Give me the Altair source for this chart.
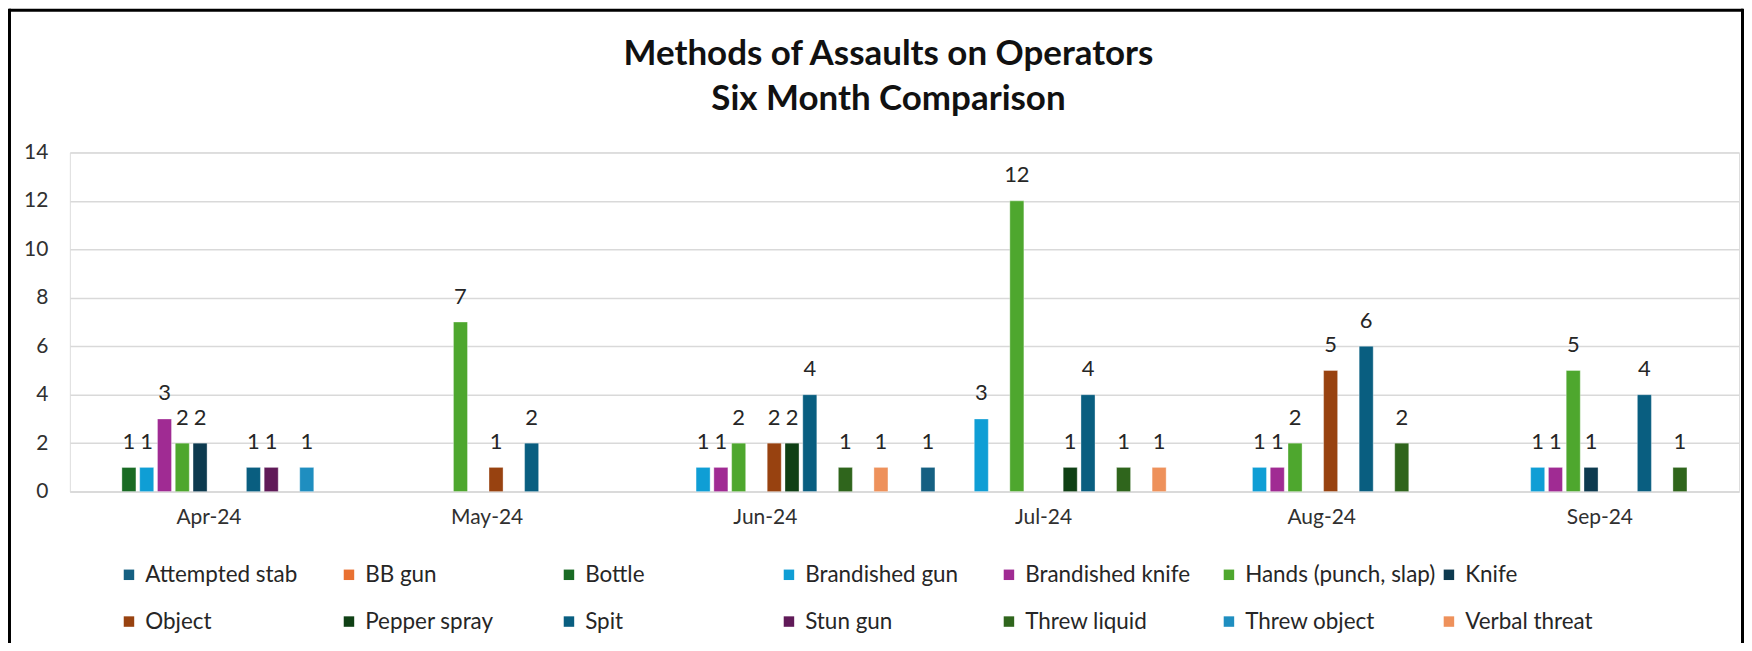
import altair as alt
import pandas as pd

months = ["Apr-24", "May-24", "Jun-24", "Jul-24", "Aug-24", "Sep-24"]
series = [
    "Attempted stab", "BB gun", "Bottle", "Brandished gun", "Brandished knife",
    "Hands (punch, slap)", "Knife", "Object", "Pepper spray", "Spit",
    "Stun gun", "Threw liquid", "Threw object", "Verbal threat",
]
attempted_stab = [0, 0, 0, 1, 0, 0]
bb_gun = [0, 0, 0, 0, 0, 0]
bottle = [1, 0, 0, 0, 0, 0]
brandished_gun = [1, 0, 1, 3, 1, 1]
brandished_knife = [3, 0, 1, 0, 1, 1]
hands = [2, 7, 2, 12, 2, 5]
knife = [2, 0, 0, 0, 0, 1]
object_ = [0, 1, 2, 0, 5, 0]
pepper_spray = [0, 0, 2, 1, 0, 0]
spit = [1, 2, 4, 4, 6, 4]
stun_gun = [1, 0, 0, 0, 0, 0]
threw_liquid = [0, 0, 1, 1, 2, 1]
threw_object = [1, 0, 0, 0, 0, 0]
verbal_threat = [0, 0, 1, 1, 0, 0]

colors = [
    "#156082", "#E97132", "#196B24", "#0F9ED5", "#A02B93", "#4EA72E", "#0D3A4F",
    "#984210", "#0F4015", "#095E80", "#601A58", "#2F651C", "#1F8EC0", "#EE915B",
]
y_ticks = [0, 2, 4, 6, 8, 10, 12, 14]

all_values = [
    attempted_stab, bb_gun, bottle, brandished_gun, brandished_knife, hands, knife,
    object_, pepper_spray, spit, stun_gun, threw_liquid, threw_object, verbal_threat,
]
rows = []
for name, vals in zip(series, all_values):
    for m, v in zip(months, vals):
        rows.append({"month": m, "method": name, "count": v})
df = pd.DataFrame(rows)

FONT = "Lato"

base = alt.Chart(df).transform_filter("datum.count > 0").encode(
    x=alt.X(
        "month:N",
        sort=months,
        scale=alt.Scale(paddingInner=0.105, paddingOuter=0.0525),
        axis=alt.Axis(
            title=None, labelAngle=0, ticks=False, tickSize=0, domainColor="#D9D9D9",
            domainWidth=1.5, labelPadding=15, labelFont=FONT, labelFontSize=21,
            labelColor="#303030", grid=False,
        ),
    ),
    xOffset=alt.XOffset(
        "method:N",
        scale=alt.Scale(domain=series, paddingInner=0.21, paddingOuter=0.105),
    ),
    y=alt.Y(
        "count:Q",
        scale=alt.Scale(domain=[0, 14], nice=False),
        axis=alt.Axis(
            title=None, values=y_ticks, domain=False, ticks=False, tickSize=0,
            labelPadding=22, labelFont=FONT, labelFontSize=21, labelColor="#303030",
            gridColor="#D9D9D9", gridWidth=1.5,
        ),
    ),
)

bars = base.mark_bar(stroke="white", strokeWidth=0.6, strokeOpacity=0.6).encode(
    color=alt.Color(
        "method:N",
        scale=alt.Scale(domain=series, range=colors),
        legend=alt.Legend(
            title=None, orient="none", legendX=48, legendY=412, columns=7,
            direction="horizontal", symbolType="square", symbolSize=110,
            symbolStrokeWidth=0, labelFont=FONT, labelFontSize=22.5, labelColor="#262626",
            labelOffset=5, columnPadding=1.5, rowPadding=24, gridAlign="all",
            labelLimit=300,
        ),
    )
)

labels = base.mark_text(
    dy=-18.5, baseline="alphabetic", font=FONT, fontSize=22, color="#262626"
).encode(text="count:Q")

frame_df = pd.DataFrame({"k": [0]})
top_line = alt.Chart(frame_df).mark_rule(color="black", strokeWidth=3).encode(
    x=alt.value(-61), x2=alt.value(1677), y=alt.value(-142.5)
)
left_line = alt.Chart(frame_df).mark_rule(color="black", strokeWidth=3).encode(
    x=alt.value(-60.5), y=alt.value(-144), y2=alt.value(500)
)
right_line = alt.Chart(frame_df).mark_rule(color="black", strokeWidth=3).encode(
    x=alt.value(1676.5), y=alt.value(-144), y2=alt.value(500)
)

chart = alt.layer(bars, labels, top_line, left_line, right_line).properties(
    width=1673,
    height=340,
    autosize="none",
    padding={"left": 62, "top": 144, "right": 5, "bottom": 151},
    title=alt.TitleParams(
        text=["Methods of Assaults on Operators", "Six Month Comparison"],
        font=FONT, fontSize=35, fontWeight="bold", color="#111111",
        anchor="middle", dx=-16, offset=-110, lineHeight=45,
    ),
).configure_view(stroke=None).configure(background="white")

chart.save("out.html", embed_options={"renderer": "svg", "actions": False})
